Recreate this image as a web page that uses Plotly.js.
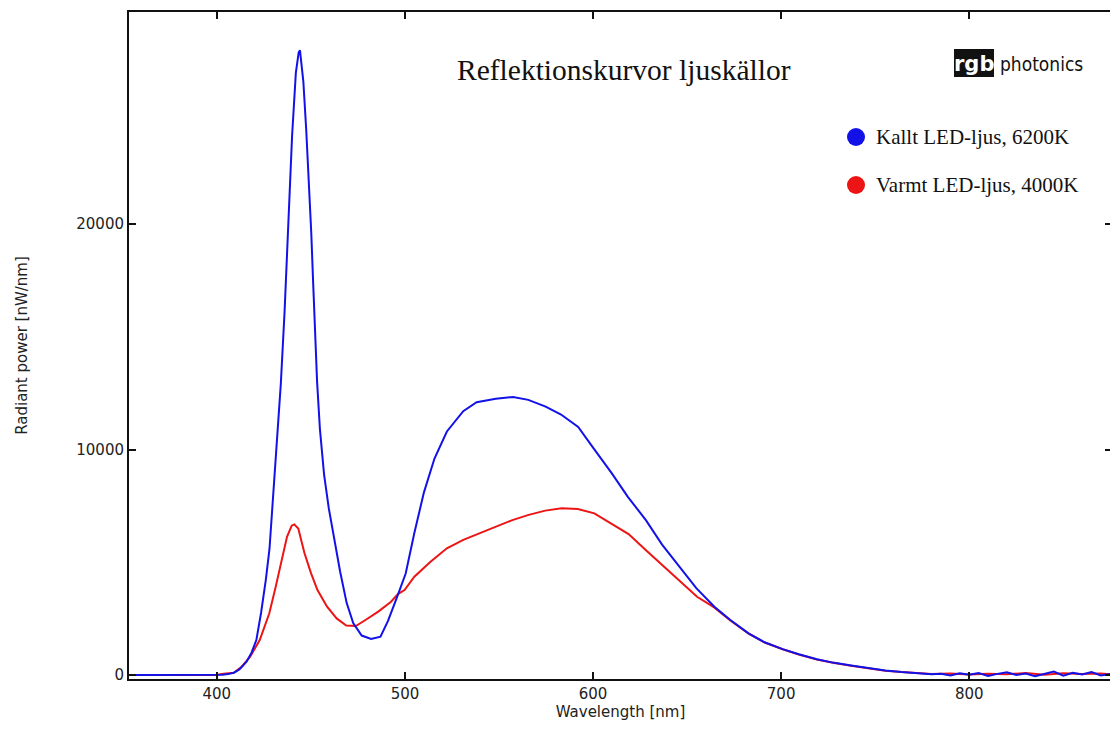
<!DOCTYPE html>
<html><head><meta charset="utf-8">
<script src="https://cdn.plot.ly/plotly-3.0.1.min.js"></script>
<style>html,body{margin:0;padding:0;overflow:hidden;background:#fff;width:1110px;height:738px}#chart{width:1112px;height:738px}</style>
</head><body><div id="chart"></div><script>
// Kallt LED-ljus, 6200K (blue)
const coldWavelength = [353,380,400,403,406,409,412,415.8,418.5,421,423.5,426,428,430,432,434,436,438,440,442,443.5,444.2,446,447.5,449,450.2,451.2,452.2,453.3,454.8,457,459.5,462,465.5,469,472.5,477,482,487,491,496,500.4,505,510.1,515.7,522.3,531,538.1,548.3,557.5,565.6,574.8,583,592.1,600.3,609.9,618.5,628.1,636.7,646.3,654.9,664.5,673,682.7,691.2,700.8,709.4,719,727.5,737.2,746,755.4,764,773.6,780,785,790,795,800,805,810,815,820,825,830,835,840,845,850,855,860,865,870,876];
const coldPower = [0,0,0,10,40,100,250,590,1000,1550,2750,4200,5600,7900,10300,12900,16100,20300,23900,26700,27600,27700,26300,24200,21900,19600,17400,15200,13000,10900,8900,7400,6200,4600,3200,2300,1750,1600,1700,2400,3500,4500,6300,8100,9600,10800,11700,12100,12250,12330,12200,11900,11550,11000,10050,8950,7900,6870,5780,4750,3850,3030,2440,1850,1450,1150,920,700,550,420,300,200,130,80,30,60,-20,80,10,90,-40,50,120,0,70,-50,60,150,-30,100,20,130,-20,60];
// Varmt LED-ljus, 4000K (red)
const warmWavelength = [353,380,400,402.4,409,413,417.7,422.8,427.9,431.3,434.7,437.3,439.8,441.2,443.3,446.6,450.1,453.5,458.6,463.7,468.8,473.9,479,485.8,492.6,496.4,499.8,505,513.6,522.3,531,539.7,548.4,557.1,565.8,574.6,583.3,591.9,600.7,609.7,618.9,628,637.1,646.2,655.3,664.4,673,682.7,691.2,700.8,709.4,719,727.5,737.2,746,755.4,764,773.6,780,790,800,810,820,830,840,850,860,870,876];
const warmPower = [0,0,0,40,100,350,810,1550,2740,3920,5250,6130,6620,6680,6500,5400,4510,3770,3030,2510,2190,2170,2440,2810,3250,3600,3770,4360,5020,5620,5990,6280,6580,6870,7100,7290,7390,7360,7170,6730,6250,5540,4840,4140,3470,3000,2420,1830,1440,1140,910,690,540,410,290,190,130,90,50,70,20,60,30,90,10,80,40,70,30];
const seriesNames = ['Kallt LED-ljus, 6200K','Varmt LED-ljus, 4000K'];
const xTicks = [400,500,600,700,800];
const yTicks = [0,10000,20000];

const BLUE = 'rgb(18,18,232)', RED = 'rgb(236,20,20)';
const L = 129, T = 12, W = 983, H = 667;
const pxX = x => (x - L) / W;
const pxY = y => (T + H - y) / H;
const axisFont = {family:'DejaVu Sans, Arial, sans-serif', size:15, color:'#222'};
const serif = 'Liberation Serif, Times New Roman, serif';

const traces = [
  {x: warmWavelength, y: warmPower, name: seriesNames[1], type:'scatter', mode:'lines', line:{color:RED, width:2}},
  {x: coldWavelength, y: coldPower, name: seriesNames[0], type:'scatter', mode:'lines', line:{color:BLUE, width:2}}
];

const layout = {
  width: 1112, height: 738,
  margin: {l:L, r:0, t:T, b:738-T-H},
  paper_bgcolor:'#fff', plot_bgcolor:'#fff',
  showlegend:false,
  xaxis: {range:[353.3, 875.9], tickvals:xTicks, ticks:'inside', ticklen:7, tickwidth:2, tickcolor:'#111',
    showline:true, linewidth:2, linecolor:'#111', mirror:'ticks', showgrid:false, zeroline:false,
    tickfont:axisFont, title:{text:'Wavelength [nm]', font:axisFont, standoff:4}},
  yaxis: {range:[-177, 29401], tickvals:yTicks, tickformat:'d', ticks:'inside', ticklen:7, tickwidth:2, tickcolor:'#111',
    showline:true, linewidth:2, linecolor:'#111', mirror:'ticks', showgrid:false, zeroline:false,
    tickfont:axisFont, title:{text:'Radiant power [nW/nm]', font:axisFont, standoff:45}},
  shapes: [
    {type:'circle', xref:'paper', yref:'paper', xsizemode:'pixel', ysizemode:'pixel', xanchor:pxX(856), yanchor:pxY(137), x0:-9, x1:9, y0:-9, y1:9, fillcolor:BLUE, line:{width:0}},
    {type:'circle', xref:'paper', yref:'paper', xsizemode:'pixel', ysizemode:'pixel', xanchor:pxX(856), yanchor:pxY(185), x0:-9, x1:9, y0:-9, y1:9, fillcolor:RED, line:{width:0}},
    {type:'rect', xref:'paper', yref:'paper', x0:pxX(954), x1:pxX(994), y0:pxY(77), y1:pxY(49), fillcolor:'#111', line:{width:0}}
  ],
  annotations: [
    {text:'Reflektionskurvor ljuskällor', xref:'paper', yref:'paper', x:pxX(624), y:pxY(70), xanchor:'center', yanchor:'middle', showarrow:false, font:{family:serif, size:29.5, color:'#111'}},
    {text:seriesNames[0], xref:'paper', yref:'paper', x:pxX(874), y:pxY(137), xanchor:'left', yanchor:'middle', showarrow:false, font:{family:serif, size:21, color:'#111'}},
    {text:seriesNames[1], xref:'paper', yref:'paper', x:pxX(874), y:pxY(185), xanchor:'left', yanchor:'middle', showarrow:false, font:{family:serif, size:21, color:'#111'}},
    {text:'<b>rgb</b>', xref:'paper', yref:'paper', x:pxX(974), y:pxY(64), xanchor:'center', yanchor:'middle', showarrow:false, font:{family:'DejaVu Sans, sans-serif', size:21, color:'#fff'}},
    {text:'photonics', xref:'paper', yref:'paper', x:pxX(998), y:pxY(64), xanchor:'left', yanchor:'middle', showarrow:false, font:{family:'DejaVu Sans Condensed, Liberation Sans Narrow, sans-serif', size:19, color:'#111'}}
  ]
};
Plotly.newPlot('chart', traces, layout, {displayModeBar:false, staticPlot:true});
</script></body></html>
